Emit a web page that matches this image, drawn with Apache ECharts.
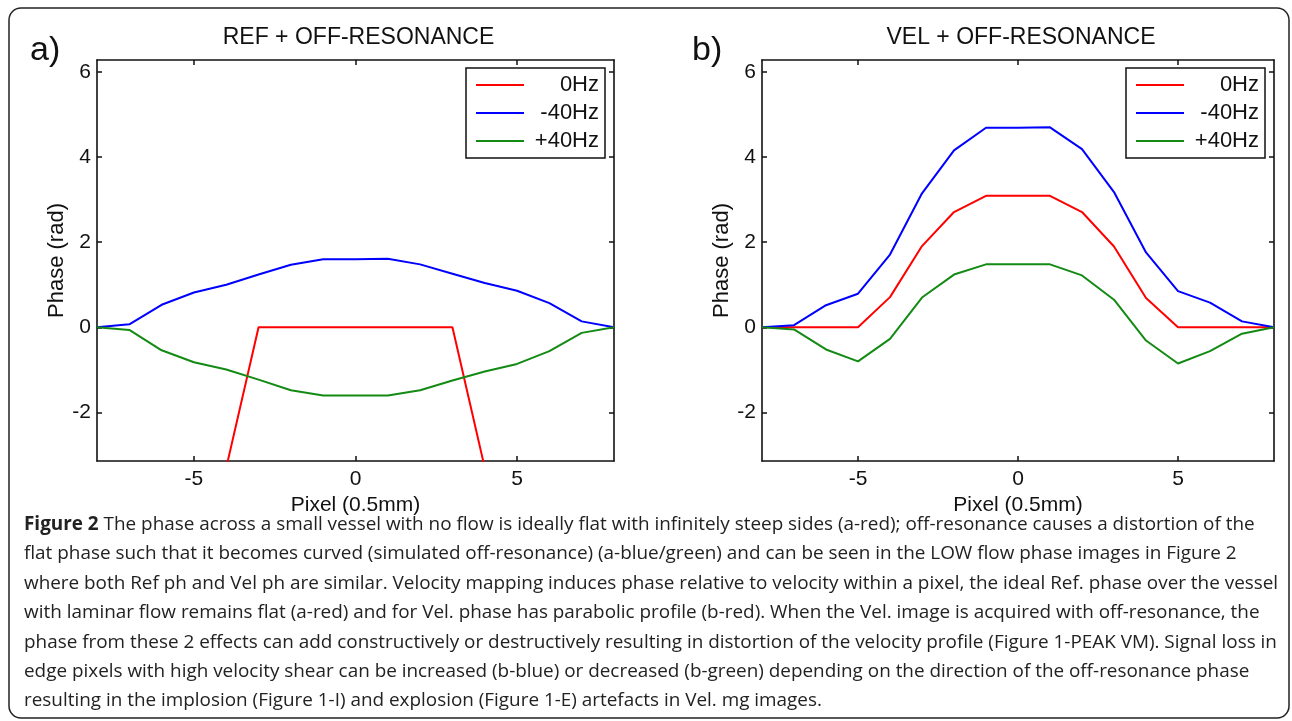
<!DOCTYPE html>
<html>
<head>
<meta charset="utf-8">
<script src="https://cdn.jsdelivr.net/npm/echarts@6/dist/echarts.min.js"></script>
<style>
html, body {margin: 0; padding: 0; background: #fff;}
#main {width: 1292px; height: 721px;}
</style>
</head>
<body>
<div id="main"></div>
<script>
// pixel positions across the vessel
var aPixel = [-8, -7, -6, -5, -4, -3, -2, -1, 0, 1, 2, 3, 4, 5, 6, 7, 8];

// a) REF + OFF-RESONANCE
var aRef0 = [-3.3, -3.3, -3.3, -3.3, -3.3, 0, 0, 0, 0, 0, 0, 0, -3.3, -3.3, -3.3, -3.3, -3.3];
var aRefMinus40 = [0, 0.07, 0.53, 0.82, 1.0, 1.24, 1.47, 1.6, 1.6, 1.61, 1.48, 1.26, 1.04, 0.86, 0.57, 0.14, 0];
var aRefPlus40 = [0, -0.06, -0.54, -0.82, -0.99, -1.23, -1.48, -1.6, -1.6, -1.6, -1.48, -1.25, -1.04, -0.86, -0.56, -0.13, 0];

// b) VEL + OFF-RESONANCE
var aVel0 = [0, 0, 0, 0, 0.71, 1.91, 2.71, 3.09, 3.09, 3.09, 2.71, 1.9, 0.69, 0, 0, 0, 0];
var aVelMinus40 = [0, 0.05, 0.52, 0.79, 1.71, 3.15, 4.16, 4.69, 4.69, 4.7, 4.19, 3.18, 1.76, 0.85, 0.58, 0.14, 0];
var aVelPlus40 = [0, -0.05, -0.52, -0.8, -0.27, 0.7, 1.24, 1.48, 1.48, 1.48, 1.22, 0.65, -0.31, -0.85, -0.56, -0.15, 0];

var aSeriesNames = ['  0Hz', '-40Hz', '+40Hz'];
var aColors = ['#ff0000', '#0000ff', '#138a13'];
var aXTicks = [-5, 0, 5];
var aYTicks = [-2, 0, 2, 4, 6];
var aTitles = ['REF + OFF-RESONANCE', 'VEL + OFF-RESONANCE'];
var aPanelTags = ['a)', 'b)'];

var aCaption = [
    '{b|Figure 2} The phase across a small vessel with no flow is ideally flat with infinitely steep sides (a-red); off-resonance causes a distortion of the',
    'flat phase such that it becomes curved (simulated off-resonance) (a-blue/green) and can be seen in the LOW flow phase images in Figure 2',
    'where both Ref ph and Vel ph are similar. Velocity mapping induces phase relative to velocity within a pixel, the ideal Ref. phase over the vessel',
    'with laminar flow remains flat (a-red) and for Vel. phase has parabolic profile (b-red). When the Vel. image is acquired with off-resonance, the',
    'phase from these 2 effects can add constructively or destructively resulting in distortion of the velocity profile (Figure 1-PEAK VM). Signal loss in',
    'edge pixels with high velocity shear can be increased (b-blue) or decreased (b-green) depending on the direction of the off-resonance phase',
    'resulting in the implosion (Figure 1-I) and explosion (Figure 1-E) artefacts in Vel. mg images.'
];

var sFont = '"Liberation Sans", Arial, sans-serif';
var sCapFont = '"Open Sans", sans-serif';
var aGrids = [
    {left: 97, top: 60, width: 517, height: 401},
    {left: 762, top: 60, width: 512, height: 401}
];

function Zip(aX, aY) {
    var aOut = [];
    for (var i = 0; i < aX.length; i++) {
        aOut.push([aX[i], aY[i]]);
    }
    return aOut;
}

function GetOption() {
    var aXAxis = [];
    var aYAxis = [];
    var aSeries = [];
    var aLegend = [];
    var aTitle = [];
    var aPanelData = [[aRef0, aRefMinus40, aRefPlus40], [aVel0, aVelMinus40, aVelPlus40]];

    for (var g = 0; g < 2; g++) {
        var oLine = {show: true, onZero: false, lineStyle: {color: '#111', width: 1.6}};
        var oTick = {inside: true, length: 5, lineStyle: {color: '#111', width: 1.5}};
        // bottom and top x axes (MATLAB box)
        aXAxis.push({
            type: 'value', gridIndex: g, min: -8, max: 8, position: 'bottom',
            name: 'Pixel (0.5mm)', nameLocation: 'middle', nameGap: 32,
            nameTextStyle: {fontFamily: sFont, fontSize: 21, color: '#111'},
            axisLine: oLine, splitLine: {show: false},
            axisTick: Object.assign({customValues: aXTicks}, oTick),
            axisLabel: {customValues: aXTicks, fontFamily: sFont, fontSize: 21, color: '#111', margin: 8}
        });
        aXAxis.push({
            type: 'value', gridIndex: g, min: -8, max: 8, position: 'top',
            axisLine: oLine, splitLine: {show: false},
            axisTick: Object.assign({customValues: aXTicks}, oTick),
            axisLabel: {show: false}
        });
        aYAxis.push({
            type: 'value', gridIndex: g, min: -Math.PI, max: 2 * Math.PI, position: 'left',
            name: 'Phase (rad)', nameLocation: 'middle', nameGap: 29, nameRotate: 90,
            nameTextStyle: {fontFamily: sFont, fontSize: 22, color: '#111'},
            axisLine: oLine, splitLine: {show: false},
            axisTick: Object.assign({customValues: aYTicks}, oTick),
            axisLabel: {customValues: aYTicks, fontFamily: sFont, fontSize: 21, color: '#111', margin: 6}
        });
        aYAxis.push({
            type: 'value', gridIndex: g, min: -Math.PI, max: 2 * Math.PI, position: 'right',
            axisLine: oLine, splitLine: {show: false},
            axisTick: Object.assign({customValues: aYTicks}, oTick),
            axisLabel: {show: false}
        });

        for (var s = 0; s < 3; s++) {
            aSeries.push({
                name: aSeriesNames[s],
                type: 'line',
                xAxisIndex: g * 2,
                yAxisIndex: g * 2,
                showSymbol: false,
                symbol: 'none',
                clip: true,
                lineStyle: {color: aColors[s], width: 2},
                itemStyle: {color: aColors[s]},
                data: Zip(aPixel, aPanelData[g][s])
            });
        }

        aLegend.push({
            left: aGrids[g].left + aGrids[g].width - 148,
            top: 68,
            orient: 'vertical',
            data: aSeriesNames,
            icon: 'rect',
            itemWidth: 48,
            itemHeight: 2,
            itemGap: 6,
            padding: [6, 6, 6, 10],
            borderColor: '#111',
            borderWidth: 1.5,
            backgroundColor: '#fff',
            selectedMode: false,
            formatter: function (sName) {
                return '{t|' + sName.trim() + '}';
            },
            textStyle: {
                rich: {t: {width: 70, align: 'right', fontFamily: sFont, fontSize: 22, color: '#111', lineHeight: 22}}
            }
        });

        aTitle.push({
            text: aTitles[g],
            left: aGrids[g].left + aGrids[g].width / 2 - 2,
            textAlign: 'center',
            top: 21,
            textStyle: {fontFamily: sFont, fontSize: 23, fontWeight: 'normal', color: '#111'}
        });
        aTitle.push({
            text: aPanelTags[g],
            left: g === 0 ? 25 : 687,
            top: 29,
            textStyle: {fontFamily: sFont, fontSize: 34, fontWeight: 'normal', color: '#111'}
        });
    }

    return {
        backgroundColor: '#fff',
        animation: false,
        title: aTitle,
        grid: aGrids,
        xAxis: aXAxis,
        yAxis: aYAxis,
        legend: aLegend,
        series: aSeries,
        graphic: [
            {
                type: 'rect',
                shape: {x: 9, y: 8, width: 1280, height: 710, r: 12},
                style: {fill: null, stroke: '#222', lineWidth: 1.5},
                silent: true
            },
            {
                type: 'text',
                left: 24,
                top: 510,
                style: {
                    text: aCaption.join('\n'),
                    fontFamily: sCapFont,
                    fontSize: 18.9,
                    lineHeight: 29.4,
                    fill: '#222',
                    rich: {b: {fontFamily: sCapFont, fontSize: 18.9, fontWeight: 'bold', fill: '#222'}}
                }
            }
        ]
    };
}

var myChart = echarts.init(document.getElementById('main'));
myChart.setOption(GetOption());
</script>
</body>
</html>
